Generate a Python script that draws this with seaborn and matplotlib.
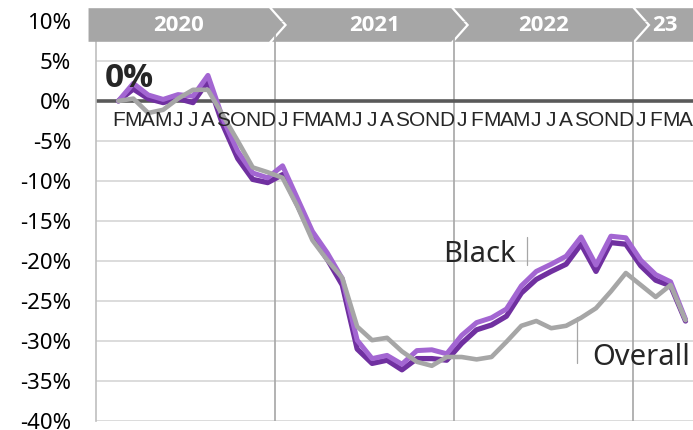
import matplotlib
matplotlib.use("Agg")
import matplotlib.pyplot as plt
import matplotlib.font_manager as fm
from matplotlib.patches import Polygon
import pandas as pd
import seaborn as sns

# month letters, Feb 2020 .. Apr 2023
months = list("FMAMJJASOND") + list("JFMAMJJASOND") * 2 + list("JFMA")

# change vs Feb 2020, in percent
black = [0, 2.2, 0.75, 0.2, 0.8, 0.6, 3.2, -2.2, -6.3, -9.0, -9.6,
         -8.1, -12.2, -16.3, -19.0, -22.2, -29.9, -32.2, -31.8, -32.9, -31.2, -31.1, -31.6,
         -29.3, -27.7, -27.1, -26.0, -23.1, -21.3, -20.4, -19.4, -17.0, -20.5, -16.9, -17.1,
         -19.9, -21.7, -22.6, -27.3]
black_dark = [0, 1.5, 0.3, -0.2, 0.3, -0.2, 2.5, -3.0, -7.2, -9.8, -10.2,
              -9.2, -13.0, -17.0, -19.8, -23.0, -31.0, -32.8, -32.4, -33.6, -32.2, -32.2, -32.4,
              -30.3, -28.6, -28.0, -26.9, -24.0, -22.3, -21.3, -20.4, -17.9, -21.3, -17.7, -17.9,
              -20.6, -22.4, -23.1, -27.5]
overall = [0, 0.3, -1.5, -1.1, 0.3, 1.4, 1.4, -1.8, -5.0, -8.3, -8.9,
           -9.6, -13.2, -17.4, -19.9, -22.1, -28.2, -29.9, -29.6, -31.3, -32.6, -33.1, -32.0,
           -32.0, -32.3, -32.0, -30.1, -28.1, -27.5, -28.4, -28.1, -27.1, -25.9, -23.8, -21.5,
           -23.0, -24.5, -23.0, -27.4]

years = ["2020", "2021", "2022", "23"]
year_label_x = [4.0, 17.2, 28.5, 36.6]
yticks = list(range(-40, 11, 5))

df = pd.DataFrame({"idx": range(len(months)), "black": black,
                   "black_dark": black_dark, "overall": overall})

sns.set_style("white")
plt.rcParams['font.family'] = ['Noto Sans', 'DejaVu Sans']

# pick a family that really has a bold face
bold_fam = 'DejaVu Sans'
for fam in ['Noto Sans', 'Open Sans', 'Lato', 'Liberation Sans']:
    if any(f.name == fam and f.weight in (700, 'bold') for f in fm.fontManager.ttflist):
        bold_fam = fam
        break

fig = plt.figure(figsize=(6.93, 4.30), dpi=100)
ax = fig.add_axes([96 / 693, 9 / 430, 597 / 693, 400 / 430])

sns.lineplot(data=df, x="idx", y="black_dark", color="#7030a0", linewidth=3.8, ax=ax, zorder=3)
sns.lineplot(data=df, x="idx", y="black", color="#a366d2", linewidth=3.6, ax=ax, zorder=4)
sns.lineplot(data=df, x="idx", y="overall", color="#a6a6a6", linewidth=3.3, ax=ax, zorder=5)

ax.set_xlim(-1.5, 38.5)
ax.set_ylim(-40, 10)
ax.set_xticks([])
ax.set_yticks(yticks)
ax.set_yticklabels([f"{v}%" for v in yticks])
ax.tick_params(axis='y', length=0, pad=18, labelsize=16, labelcolor='black')
ax.set_xlabel("")
ax.set_ylabel("")
for s in ["top", "right", "bottom"]:
    ax.spines[s].set_visible(False)
ax.spines["left"].set_color("#bfbfbf")
ax.spines["left"].set_linewidth(1.2)

for v in yticks:
    if v != 0:
        ax.axhline(v, color="#d9d9d9", linewidth=1.3, zorder=1)
ax.axhline(0, color="#595959", linewidth=2.6, zorder=2)
for b in [10.5, 22.5, 34.5]:
    ax.axvline(b, color="#a6a6a6", linewidth=1.2, zorder=1)

# year banner (chevrons)
y0, y1 = 7.4, 11.6
ym = (y0 + y1) / 2
tops = [10.1, 22.3, 34.45, 41]
depth, gap = 1.0, 0.2
left = -2.0
for i, r in enumerate(tops):
    pts = [(left, y1), (r, y1), (r + depth, ym), (r, y0), (left, y0)]
    if i > 0:
        pts.append((left + depth, ym))
    ax.add_patch(Polygon(pts, closed=True, facecolor="#a6a6a6", edgecolor="none",
                         clip_on=False, zorder=10))
    left = r + gap
for x, lab in zip(year_label_x, years):
    ax.text(x, ym - 0.1, lab, ha='center', va='center', color='white',
            fontsize=16, fontweight='bold', family=bold_fam, zorder=11)

for i, m in enumerate(months):
    ax.text(i, -3.1, m, ha='center', va='baseline', fontsize=15,
            family='Liberation Sans', zorder=6)

ax.text(-0.94, 1.75, "0%", fontsize=24, fontweight='bold', family=bold_fam,
        ha='left', va='baseline', zorder=6)

ax.text(21.74, -20.1, "Black", fontsize=21, ha='left', va='baseline')
ax.plot([27.36, 27.36], [-17.0, -20.5], color="#a6a6a6", linewidth=0.9)
ax.text(31.77, -33.0, "Overall", fontsize=21, ha='left', va='baseline')
ax.plot([30.76, 30.76], [-27.0, -32.75], color="#a6a6a6", linewidth=0.9)

fig.savefig("out.png", dpi=100)
